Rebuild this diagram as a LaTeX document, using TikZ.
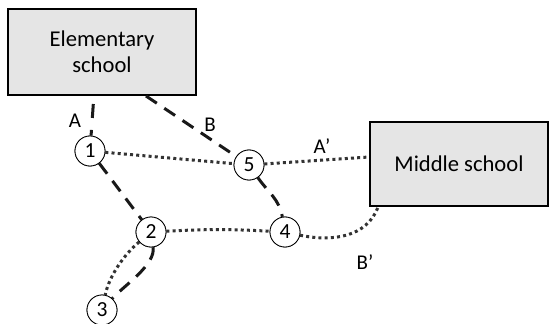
\documentclass[tikz,border=0pt]{standalone}
\usepackage{fontspec}
\setmainfont{Carlito}
\begin{document}
\begin{tikzpicture}[x=1pt,y=-1pt,
  box/.style={draw=black,line width=2.2pt,fill=black!10,inner sep=0pt,font=\fontsize{22.6}{26}\selectfont,align=center},
  num/.style={circle,draw=black,line width=0.8pt,fill=white,minimum size=30pt,inner sep=0pt,font=\fontsize{21.5}{22}\selectfont},
  lbl/.style={font=\fontsize{21}{22}\selectfont,inner sep=0pt},
  dashline/.style={draw=black!90,line width=3pt,dash pattern=on 13pt off 9pt},
  dotline/.style={draw=black!80,line width=3pt,dash pattern=on 3pt off 3.2pt}]
\useasboundingbox (0,0) rectangle (550,324);
\node[box,minimum width=188pt,minimum height=86pt] (E) at (102,52) {Elementary\\school};
\node[box,minimum width=178pt,minimum height=84pt] (M) at (459,164) {Middle school};
\node[num] (n1) at (90,151) {1};
\node[num] (n5) at (249,165) {5};
\node[num] (n2) at (151,232) {2};
\node[num] (n4) at (285,232) {4};
\node[num] (n3) at (102,310) {3};
\coordinate (eA) at (93.3,104);
\coordinate (eB) at (146,96);
\coordinate (mA) at (369,157);
\coordinate (mB) at (378,207);
% dotted
\draw[dotline] (n1) -- (n5);
\draw[dotline] (n5) -- (mA);
\draw[dotline] (n2) to[bend left=3] (n4);
\draw[dotline] (n4) to[out=-12,in=-110] (mB);
\draw[dotline] (n2) to[out=-140,in=78,looseness=0.8] (n3);
% dashed
\draw[dashline,dash pattern=on 14pt off 12pt] (eA) -- (n1);
\draw[dashline] (eB) -- (n5);
\draw[dashline] (n1) -- (n2);
\draw[dashline] (n5) to[out=-55,in=100] (n4);
\draw[dashline] (n2) to[out=-82,in=48,looseness=0.7] (n3);
% redraw nodes on top
\node[num] at (n1) {1};
\node[num] at (n5) {5};
\node[num] at (n2) {2};
\node[num] at (n4) {4};
\node[num] at (n3) {3};
\node[lbl] (lA) at (75,121) {A};
\node[lbl] (lB) at (210,125) {B};
\node[lbl] (lA2) at (322,146) {A’};
\node[lbl] (lB2) at (365,262) {B’};
\end{tikzpicture}
\end{document}
